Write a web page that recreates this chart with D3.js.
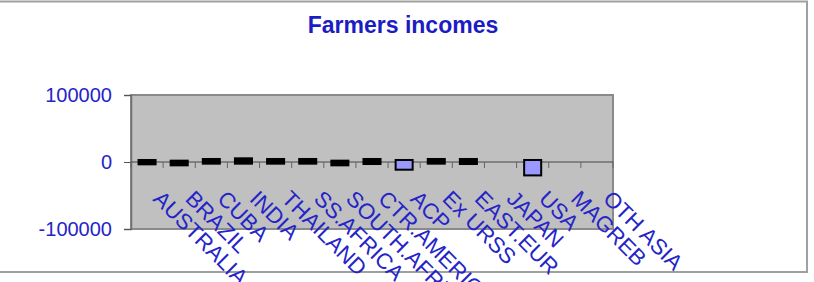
<!DOCTYPE html>
<html>
<head>
<meta charset="utf-8">
<script src="https://cdn.jsdelivr.net/npm/d3@7"></script>
<style>
  html, body { margin: 0; padding: 0; background: #fff; }
  svg { display: block; }
</style>
</head>
<body>
<svg id="chart" width="814" height="282"></svg>
<script>
// categories and up/down bar values (open -> close)
const categories = ["AUSTRALIA", "BRAZIL", "CUBA", "INDIA", "THAILAND", "SS.AFRICA", "SOUTH.AFRICA",
  "CTR.AMERICA", "ACP", "Ex URSS", "EAST.EUR", "JAPAN", "USA", "MAGREB", "OTH ASIA"];
const openVals  = [3000, 2000, 4500, 5500, 4500, 4500, 2000, 4500, -11500, 4500, 4500, null, -20000, null, null];
const closeVals = [-3500, -5000, -2500, -2500, -2500, -2500, -5000, -3000, 3000, -2500, -3000, null, 3000, null, null];
const yTicks = [-100000, 0, 100000];

const plotL = 131, plotR = 613, plotT = 95, plotB = 229,
      blue = "#2424c8",
      font = "Liberation Sans, Arial, sans-serif";

const svg = d3.select("#chart");

// outer frame
svg.append("rect")
  .attr("x", -5).attr("y", 1.5).attr("width", 812).attr("height", 270.5)
  .attr("fill", "#fff").attr("stroke", "#a0a0a0").attr("stroke-width", 2);

// title
svg.append("text")
  .attr("x", 403).attr("y", 33)
  .attr("text-anchor", "middle")
  .attr("font-family", font)
  .attr("font-weight", "bold").attr("font-size", 23)
  .attr("fill", "#1c1cc4")
  .text("Farmers incomes");

const x = d3.scaleBand().domain(categories).range([plotL, plotR]);
const y = d3.scaleLinear().domain([-100000, 100000]).range([plotB, plotT]);

// plot area
svg.append("rect")
  .attr("x", plotL).attr("y", plotT)
  .attr("width", plotR - plotL).attr("height", plotB - plotT)
  .attr("fill", "#c0c0c0").attr("stroke", "#8a8a8a").attr("stroke-width", 2);

// y axis
const yAxis = svg.append("g")
  .attr("transform", `translate(${plotL},0)`)
  .call(d3.axisLeft(y).tickValues(yTicks).tickSize(7).tickPadding(12).tickFormat(d => String(d)));
yAxis.select(".domain").attr("stroke", "#707070").attr("stroke-width", 1.5);
yAxis.selectAll(".tick line").attr("stroke", "#555");
yAxis.selectAll(".tick text")
  .attr("fill", blue)
  .attr("font-family", font)
  .attr("font-size", 20);

// category axis at zero
const xAxis = svg.append("g")
  .attr("transform", `translate(0,${y(0)})`);
xAxis.append("line")
  .attr("x1", plotL).attr("x2", plotR)
  .attr("stroke", "#444").attr("stroke-width", 1);
xAxis.selectAll("line.tk")
  .data(d3.range(categories.length + 1))
  .join("line").attr("class", "tk")
  .attr("x1", i => plotL + i * x.step()).attr("x2", i => plotL + i * x.step())
  .attr("y1", 0).attr("y2", 6)
  .attr("stroke", "#666").attr("stroke-width", 1);

// up/down bars
const bw = x.bandwidth() * 0.53;
const rows = categories.map((c, i) => ({c, o: openVals[i], cl: closeVals[i]}))
  .filter(d => d.o != null);
svg.selectAll("rect.bar")
  .data(rows)
  .join("rect").attr("class", "bar")
  .attr("x", d => x(d.c) + (x.bandwidth() - bw) / 2)
  .attr("y", d => y(Math.max(d.o, d.cl)))
  .attr("width", bw)
  .attr("height", d => Math.abs(y(d.o) - y(d.cl)))
  .attr("fill", d => d.cl > d.o ? "#9999ff" : "#000")
  .attr("stroke", "#000").attr("stroke-width", 2);

// rotated category labels
svg.selectAll("text.cat")
  .data(categories)
  .join("text").attr("class", "cat")
  .attr("transform", d => `translate(${x(d) + x.bandwidth() / 2 + 5},${200}) rotate(45)`)
  .attr("font-family", font)
  .attr("font-size", 22)
  .attr("fill", blue)
  .text(d => d);
</script>
</body>
</html>
